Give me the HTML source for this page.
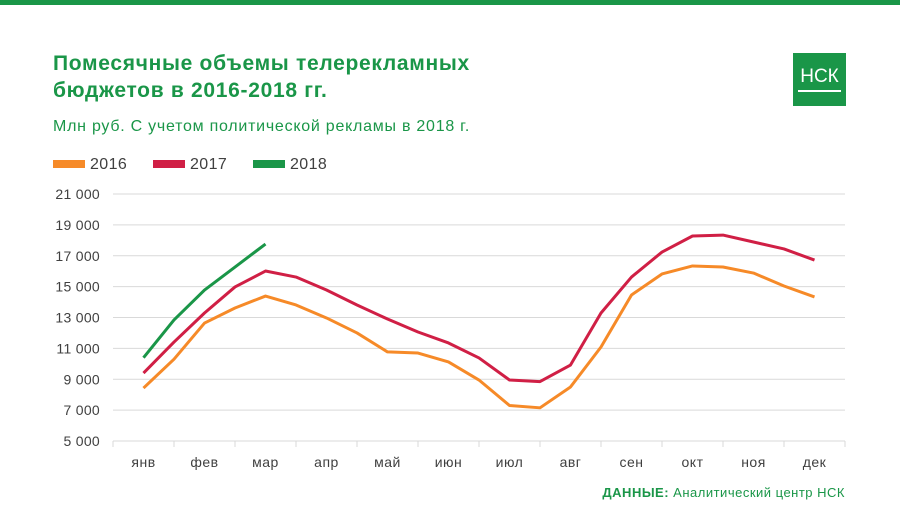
<!DOCTYPE html>
<html><head><meta charset="utf-8">
<style>
body{margin:0;background:#fff;font-family:"Liberation Sans","DejaVu Sans",sans-serif;}
#wrap{position:relative;width:900px;height:530px;overflow:hidden;}
.abs{position:absolute;}
</style></head><body>
<div id="wrap">
<div class="abs" style="left:0;top:0;width:900px;height:5px;background:#1a9648"></div>
<div class="abs" style="left:53px;top:50px;font-size:21px;font-weight:bold;color:#1a9648;line-height:27px;letter-spacing:0.7px;">Помесячные объемы телерекламных<br>бюджетов в 2016-2018 гг.</div>
<div class="abs" style="left:793px;top:53px;width:53px;height:53px;background:#1a9648;">
 <div style="position:absolute;left:0;width:53px;top:13px;text-align:center;color:#fff;font-size:19px;">НСК</div>
 <div style="position:absolute;left:5px;top:37px;width:43px;height:2px;background:#fff"></div>
</div>
<div class="abs" style="left:53px;top:118px;font-size:16px;color:#1a9648;letter-spacing:0.75px;">Млн руб. С учетом политической рекламы в 2018 г.</div>
<svg class="abs" style="left:0;top:0" width="900" height="530" id="svg"></svg>
</div>
<script>
const months=["янв","фев","мар","апр","май","июн","июл","авг","сен","окт","ноя","дек"];
const yTicks=[5000,7000,9000,11000,13000,15000,17000,19000,21000];
const s2016=[8430,10300,12640,13615,14390,13810,12970,12000,10770,10700,10120,8950,7300,7150,8500,11090,14460,15820,16340,16270,15880,15040,14330];
const s2017=[9400,11410,13290,14980,16010,15620,14780,13810,12900,12060,11350,10380,8950,8850,9920,13290,15620,17240,18280,18340,17890,17440,16720];
const s2018=[10400,12840,14780,16270,17760];
const seriesNames=["2016","2017","2018"];
const colors=["#f68a28","#d01f45","#1a9648"];
const svg=document.getElementById('svg');
const NS="http://www.w3.org/2000/svg";
const L=113,R=845,T=194,B=441;
function y(v){return B-(v-5000)/16000*(B-T);}
function x(i){return L+(R-L)/12*(i/2+0.5);}
function mk(t,a){const e=document.createElementNS(NS,t);for(const k in a)e.setAttribute(k,a[k]);svg.appendChild(e);return e;}
yTicks.forEach(v=>{
 const g=mk('line',{x1:L,x2:R,y1:y(v),y2:y(v),stroke:'#d9d9d9','stroke-width':1});
 
 
 const t=mk('text',{x:100,y:y(v)+5,'text-anchor':'end','font-size':14,'letter-spacing':'0.3',fill:'#404040','font-family':'Liberation Sans, sans-serif'});
 t.textContent=v.toLocaleString('ru-RU').replace(/\s/g,' ');
 
 
});
for(let k=0;k<=12;k++){
 const xx=L+(R-L)/12*k;
 const tk=mk('line',{x1:xx,x2:xx,y1:B,y2:B+6,stroke:'#d9d9d9'});
 
 
}
months.forEach((m,i)=>{
 const t=mk('text',{x:x(i*2),y:467,'text-anchor':'middle','font-size':14,'letter-spacing':'0.5',fill:'#404040','font-family':'Liberation Sans, sans-serif'});
 t.textContent=m;
 
 
});
[s2016,s2017,s2018].forEach((s,j)=>{
 const p=mk('polyline',{points:s.map((v,i)=>x(i)+','+y(v)).join(' '),fill:'none',stroke:colors[j],'stroke-width':3,'stroke-linejoin':'round'});
 
 
 const sw=mk('rect',{x:53+j*100,y:160,width:32,height:8,fill:colors[j]});
 
 
 const lt=mk('text',{x:90+j*100,y:169,'font-size':16,'letter-spacing':'0.4',fill:'#404040','font-family':'Liberation Sans, sans-serif'});
 lt.textContent=seriesNames[j];
 
 
});
const src=mk('text',{x:845,y:497,'text-anchor':'end','font-size':13,'letter-spacing':'0.5',fill:'#1a9648','font-family':'Liberation Sans, sans-serif'});
src.innerHTML='<tspan font-weight="bold">ДАННЫЕ:</tspan> Аналитический центр НСК';


</script>
</body></html>
